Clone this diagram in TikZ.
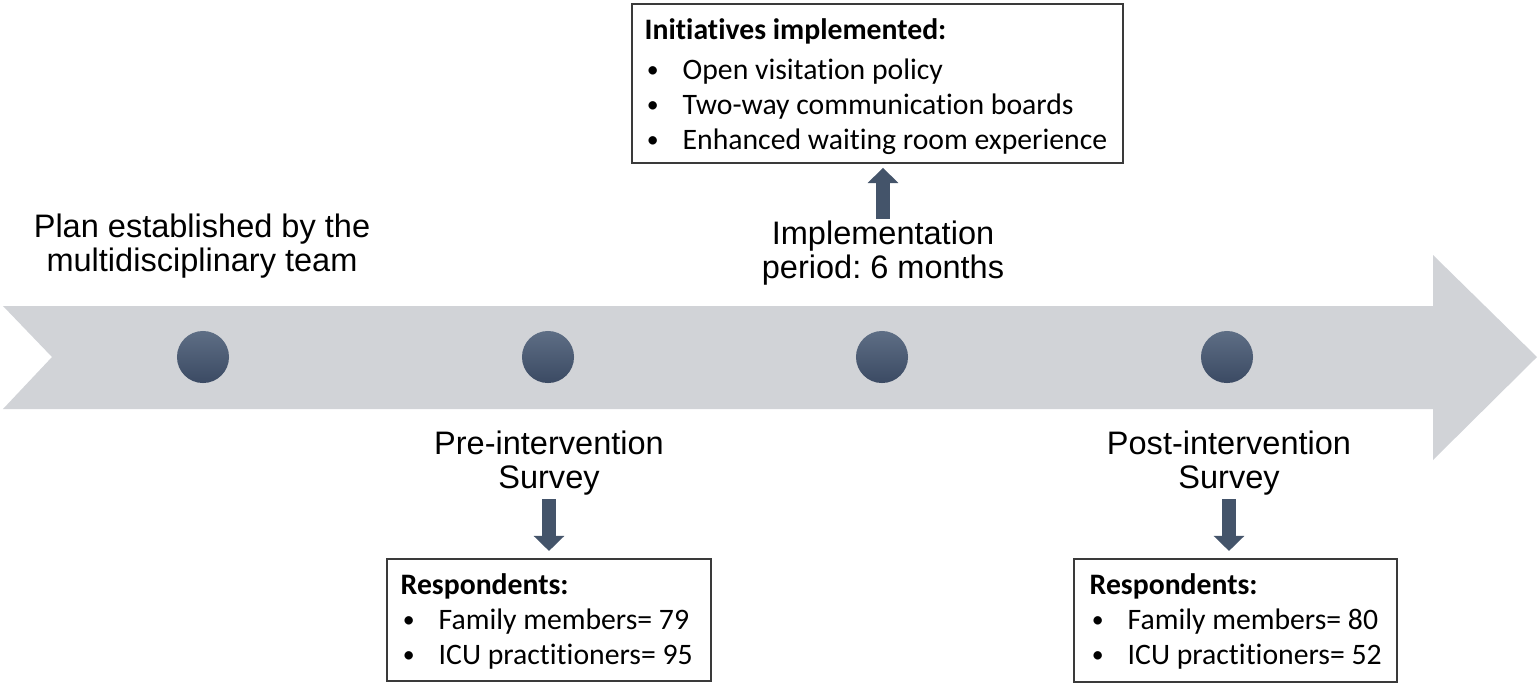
\documentclass[tikz,border=0pt]{standalone}
\usepackage{fontspec}
\setmainfont{Liberation Sans}
\newfontfamily\calfont[Ligatures=NoCommon]{Carlito}
\usetikzlibrary{arrows.meta,fit}
\definecolor{band}{HTML}{D1D3D7}
\definecolor{navy}{HTML}{44546A}
\definecolor{dottop}{HTML}{5E6E85}
\definecolor{dotbot}{HTML}{3B4A63}
\definecolor{boxline}{HTML}{3A3A3A}
\newcommand{\bulletbox}[1]{\makebox[#1][l]{\hspace{0.6pt}\raisebox{0.1ex}{\scalebox{0.8}{•}}}}
\frenchspacing
\begin{document}
\begin{tikzpicture}[x=0.01cm,y=-0.01cm,
  lbl/.style={font=\fontsize{9.25pt}{9.7pt}\selectfont, align=center, inner sep=0pt, anchor=north, text=black},
  boxtxt/.style={font=\calfont\fontsize{8.45pt}{10pt}\selectfont, inner sep=0pt, anchor=base west, text=black},
  hdr/.style={font=\calfont\bfseries\fontsize{8.45pt}{10pt}\selectfont, inner sep=0pt, anchor=base west, text=black},
  panel/.style={draw=boxline, line width=0.6pt, inner sep=0pt},
  dot/.style={circle, minimum size=14.8pt, inner sep=0pt, top color=dottop, bottom color=dotbot},
  blk/.style={color=navy, line width=4.2pt, -{Triangle[width=8.8pt,length=4.3pt,line width=0pt]}}
]
\useasboundingbox (0,0) rectangle (1539,687);

% timeline band arrow
\fill[band] (3,306) -- (1433,306) -- (1433,255) -- (1537,357) -- (1433,460) -- (1433,409) -- (3,409) -- (52,357) -- cycle;

% milestones
\node[dot] (c1) at (203,357) {};
\node[dot] (c2) at (548,357) {};
\node[dot] (c3) at (882,357) {};
\node[dot] (c4) at (1227,357) {};

% labels
\node[lbl] (plan) at (202,213) {Plan established by the\\multidisciplinary team};
\node[lbl] (impl) at (883,220) {Implementation\\period: 6 months};
\node[lbl] (pre) at (549,430) {Pre-intervention\\Survey};
\node[lbl] (post) at (1229,430) {Post-intervention\\Survey};

% boxes
\node[panel, fit={(632,4) (1123,163)}] (topbox) {};
\node[panel, fit={(387,559) (711,681)}] (prebox) {};
\node[panel, fit={(1074,559) (1397,682)}] (postbox) {};

% box texts
\node[hdr] (ih) at (644,39) {Initiatives implemented:};
\node[boxtxt] (i1) at (644,79) {\bulletbox{10.8pt}Open visitation policy};
\node[boxtxt] (i2) at (644,114) {\bulletbox{10.8pt}Two-way communication boards};
\node[boxtxt] (i3) at (644,149) {\bulletbox{10.8pt}Enhanced waiting room experience};

\node[hdr] (rh1) at (400,594) {Respondents:};
\node[boxtxt] (r11) at (400,629) {\bulletbox{10.8pt}Family members= 79};
\node[boxtxt] (r12) at (400,664) {\bulletbox{10.8pt}ICU practitioners= 95};

\node[hdr] (rh2) at (1089,594) {Respondents:};
\node[boxtxt] (r21) at (1089,629) {\bulletbox{10.8pt}Family members= 80};
\node[boxtxt] (r22) at (1089,664) {\bulletbox{10.8pt}ICU practitioners= 52};

% block arrows
\draw[blk, shorten <=0.3pt, shorten >=1.1pt] (impl.north) -- (impl.north |- topbox.south);
\draw[blk, shorten <=1pt, shorten >=2pt] (pre.south) -- (pre.south |- prebox.north);
\draw[blk, shorten <=1pt, shorten >=2pt] (post.south) -- (post.south |- postbox.north);
\end{tikzpicture}
\end{document}
